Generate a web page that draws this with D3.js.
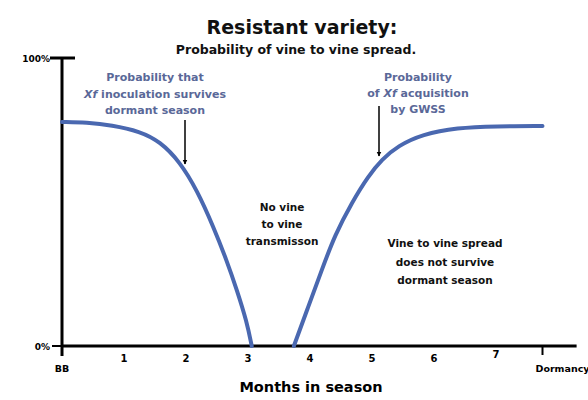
<!DOCTYPE html>
<html>
<head>
<meta charset="utf-8">
<script src="https://cdn.jsdelivr.net/npm/d3@7"></script>
<style>
  body { margin: 0; background: #fff; }
  svg text { font-family: "DejaVu Sans", sans-serif; font-weight: 700; }
</style>
</head>
<body>
<div id="vis"></div>
<script>
const width = 588;
const height = 400;

// month in season vs probability (%)
const survivalMonths = [0, 0.4, 0.8, 1.26, 1.58, 1.9, 2.18, 2.44, 2.66, 2.82, 2.98, 3.06];
const survivalValues = [77.8, 77.6, 76.7, 74.5, 71, 64, 54, 41.5, 29.5, 19.5, 8.5, 0];
const acquisitionMonths = [3.74, 3.97, 4.19, 4.4, 4.68, 4.94, 5.16, 5.42, 5.81, 6.37, 7, 7.75];
const acquisitionValues = [0, 13.5, 26.4, 38.5, 50, 59, 64.8, 69.5, 73.5, 75.8, 76.3, 76.4];

const monthTicks = [1, 2, 3, 4, 5, 6, 7];
const endTicks = [["BB", 0], ["Dormancy", 7.75]];
const yTicks = [["100%", 100], ["0%", 0]];

const x = d3.scaleLinear().domain([0, 8.3]).range([62, 576.6]);
const y = d3.scaleLinear().domain([0, 100]).range([346, 58]);

const svg = d3.select("#vis")
  .append("svg")
  .attr("width", width)
  .attr("height", height)
  .style("background-color", "#fff");

// titles
svg.append("text")
  .attr("x", 302).attr("y", 34)
  .attr("text-anchor", "middle")
  .attr("font-size", 19)
  .attr("fill", "#111")
  .text("Resistant variety:");
svg.append("text")
  .attr("x", 296).attr("y", 54)
  .attr("text-anchor", "middle")
  .attr("font-size", 12.5)
  .attr("fill", "#111")
  .text("Probability of vine to vine spread.");

// axes
svg.append("line")
  .attr("x1", x(0)).attr("x2", x(0))
  .attr("y1", y(100)).attr("y2", y(0) + 10)
  .attr("stroke", "#000").attr("stroke-width", 3);
svg.append("line")
  .attr("x1", x(0)).attr("x2", x(8.3))
  .attr("y1", y(0)).attr("y2", y(0))
  .attr("stroke", "#000").attr("stroke-width", 3);
svg.append("line")
  .attr("x1", x(0) - 12).attr("x2", x(0) + 13)
  .attr("y1", y(100)).attr("y2", y(100))
  .attr("stroke", "#000").attr("stroke-width", 3);
svg.append("line")
  .attr("x1", x(0) - 10).attr("x2", x(0))
  .attr("y1", y(0)).attr("y2", y(0))
  .attr("stroke", "#000").attr("stroke-width", 2);
svg.append("line")
  .attr("x1", x(7.75)).attr("x2", x(7.75))
  .attr("y1", y(0)).attr("y2", y(0) + 9)
  .attr("stroke", "#000").attr("stroke-width", 2);

svg.selectAll(".ylab")
  .data(yTicks)
  .enter()
  .append("text")
  .attr("class", "ylab")
  .attr("x", x(0) - 12)
  .attr("y", d => y(d[1]) + 3.5)
  .attr("text-anchor", "end")
  .attr("font-size", 9)
  .text(d => d[0]);

svg.selectAll(".mlab")
  .data(monthTicks)
  .enter()
  .append("text")
  .attr("class", "mlab")
  .attr("x", d => x(d))
  .attr("y", d => d === 7 ? 358 : 362)
  .attr("text-anchor", "middle")
  .attr("font-size", 10)
  .text(d => d);

svg.selectAll(".elab")
  .data(endTicks)
  .enter()
  .append("text")
  .attr("class", "elab")
  .attr("x", d => d[1] === 0 ? x(d[1]) : x(d[1]) + 20)
  .attr("y", 372)
  .attr("text-anchor", "middle")
  .attr("font-size", 9.5)
  .text(d => d[0]);

svg.append("text")
  .attr("x", 311).attr("y", 392)
  .attr("text-anchor", "middle")
  .attr("font-size", 14.5)
  .text("Months in season");

// curves
const line = d3.line()
  .x(d => x(d[0]))
  .y(d => y(d[1]))
  .curve(d3.curveBasis);

[d3.zip(survivalMonths, survivalValues), d3.zip(acquisitionMonths, acquisitionValues)]
  .forEach(series => {
    svg.append("path")
      .datum(series)
      .attr("fill", "none")
      .attr("stroke", "#4a68b0")
      .attr("stroke-width", 4)
      .attr("stroke-linecap", "round")
      .attr("d", line);
  });

// arrows
svg.append("defs").append("marker")
  .attr("id", "head")
  .attr("viewBox", "0 0 10 10")
  .attr("refX", 9).attr("refY", 5)
  .attr("markerWidth", 5).attr("markerHeight", 7)
  .attr("markerUnits", "userSpaceOnUse")
  .attr("orient", "auto")
  .append("path")
  .attr("d", "M0,0L10,5L0,10z")
  .attr("fill", "#000");

svg.append("line")
  .attr("x1", 185).attr("x2", 185)
  .attr("y1", 120).attr("y2", 164)
  .attr("stroke", "#000").attr("stroke-width", 1.5)
  .attr("marker-end", "url(#head)");
svg.append("line")
  .attr("x1", 379).attr("x2", 379)
  .attr("y1", 106).attr("y2", 156)
  .attr("stroke", "#000").attr("stroke-width", 1.5)
  .attr("marker-end", "url(#head)");

// notes
function note(lines, cx, y0, dy, size, color) {
  const t = svg.append("text")
    .attr("text-anchor", "middle")
    .attr("font-size", size)
    .attr("fill", color);
  lines.forEach((ln, i) => {
    const ts = t.append("tspan").attr("x", cx).attr("y", y0 + i * dy);
    ln.forEach(part => {
      ts.append("tspan")
        .attr("font-style", part[1] ? "italic" : null)
        .text(part[0]);
    });
  });
}

note([[["Probability that"]], [["Xf", 1], [" inoculation survives"]], [["dormant season"]]],
  155, 81, 16.5, 11, "#5a6898");
note([[["Probability"]], [["of "], ["Xf", 1], [" acquisition"]], [["by GWSS"]]],
  418, 81, 16, 11, "#5a6898");
note([[["No vine"]], [["to vine"]], [["transmisson"]]],
  282, 211, 17, 10.5, "#111");
note([[["Vine to vine spread"]], [["does not survive"]], [["dormant season"]]],
  445, 247, 18.5, 10.5, "#111");
</script>
</body>
</html>
